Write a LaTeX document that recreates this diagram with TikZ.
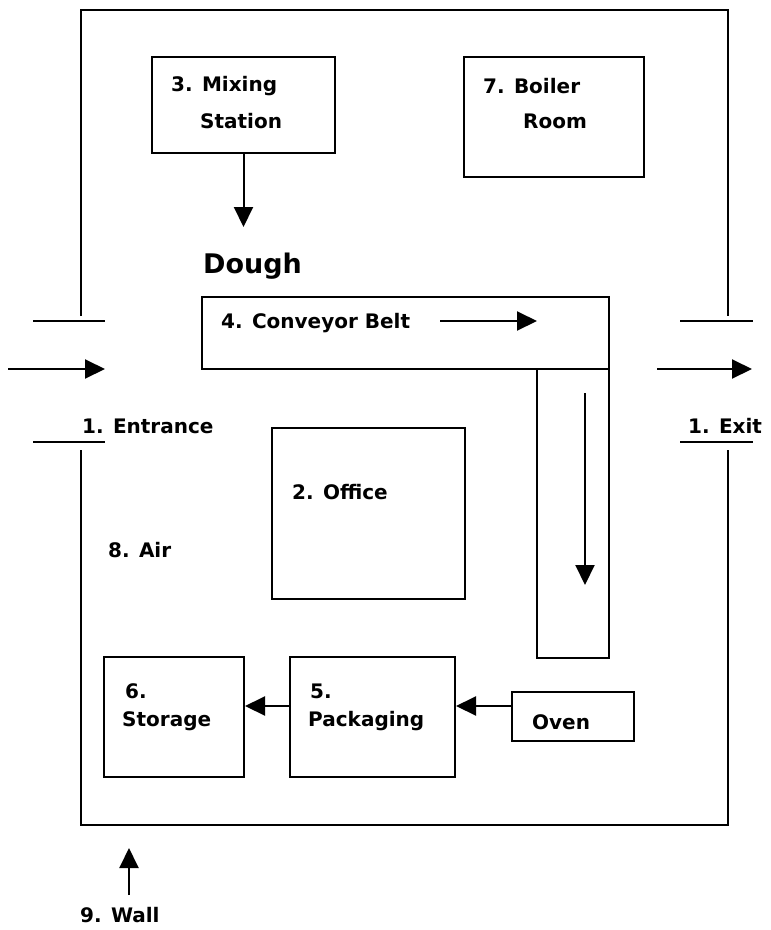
\documentclass[tikz,border=0pt]{standalone}
\usepackage{fontspec}
\setmainfont{DejaVu Sans}
\usetikzlibrary{arrows.meta,positioning}

\begin{document}
\begin{tikzpicture}[x=1pt, y=-1pt,
    room/.style={draw, line width=2pt, inner sep=0pt},
    lbl/.style={font=\bfseries\fontsize{20}{24}\selectfont, anchor=west, inner sep=0pt},
    flow/.style={line width=2pt, -{Triangle[length=20pt,width=19pt]}},
    wall/.style={line width=2pt}]

    \def\wallL{81}
    \def\wallR{728}

    \useasboundingbox (0,0) rectangle (771,930);

    % Draw outer wall with the two doors
    \draw[wall] (\wallL,316) -- (\wallL,10) -- (\wallR,10) -- (\wallR,316);
    \draw[wall] (\wallL,450) -- (\wallL,825) -- (\wallR,825) -- (\wallR,450);
    \draw[wall] (33,321) -- (105,321);
    \draw[wall] (33,442) -- (105,442);
    \draw[wall] (680,321) -- (753,321);
    \draw[wall] (680,442) -- (753,442);

    % Entrance and exit
    \coordinate (inA) at (8,369);
    \coordinate (inB) at (105,369);
    \coordinate (outA) at (657,369);
    \coordinate (outB) at (752,369);
    \draw[flow] (inA) -- (inB);
    \draw[flow] (outA) -- (outB);
    \node[lbl] (entrance) at (82,426) {1. Entrance};
    \node[lbl] (exit) at (688,426) {1. Exit};

    % Rooms
    \node[room, minimum width=183pt, minimum height=96pt] (mix) at (243.5,105) {};
    \node[room, minimum width=180pt, minimum height=120pt] (boiler) at (554,117) {};
    \node[room, minimum width=407pt, minimum height=72pt] (beltH) at (405.5,333) {};
    \node[room, minimum width=72pt, minimum height=289pt] (beltV) at (573,513.5) {};
    \node[room, minimum width=193pt, minimum height=171pt] (office) at (368.5,513.5) {};
    \node[room, minimum width=140pt, minimum height=120pt] (store) at (174,717) {};
    \node[room, minimum width=165pt, minimum height=120pt] (pack) at (372.5,717) {};
    \node[room, minimum width=122pt, minimum height=49pt] (oven) at (573,716.5) {};

    % Room labels
    \node[lbl] (mixA) at ([shift={(20,-19)}]mix.west) {3. Mixing};
    \node[lbl] (mixB) at ([shift={(49,16)}]mix.west) {Station};
    \node[lbl] (boilerA) at ([shift={(20,-31)}]boiler.west) {7. Boiler};
    \node[lbl] (boilerB) at ([shift={(60,4)}]boiler.west) {Room};
    \node[lbl, font=\bfseries\fontsize{27}{32}\selectfont] (dough) at (203,266) {Dough};
    \node[lbl] (beltlbl) at ([shift={(20,-10)}]beltH.west) {4. Conveyor Belt};
    \node[lbl] (officelbl) at ([shift={(21,-21)}]office.west) {2. Office};
    \node[lbl] (air) at (108,550) {8. Air};
    \node[lbl] (storeA) at ([shift={(22,-26)}]store.west) {6.};
    \node[lbl] (storeB) at ([shift={(19,4)}]store.west) {Storage};
    \node[lbl] (packA) at ([shift={(21,-26)}]pack.west) {5.};
    \node[lbl] (packB) at ([shift={(19,4)}]pack.west) {Packaging};
    \node[lbl] (ovenlbl) at ([shift={(21,6)}]oven.west) {Oven};

    % Flow of the dough
    \coordinate[below=73pt of mix.south] (mixtip);
    \draw[flow] (mix.south) -- (mixtip);
    \coordinate (beltA) at (440,321);
    \coordinate (beltB) at (537,321);
    \draw[flow] (beltA) -- (beltB);
    \coordinate (beltC) at (585,393);
    \coordinate (beltD) at (585,585);
    \draw[flow] (beltC) -- (beltD);
    \draw[flow] ([yshift=10.5pt]oven.west) -- ([yshift=11pt]pack.east);
    \draw[flow] ([yshift=11pt]pack.west) -- ([yshift=11pt]store.east);

    % Wall pointer
    \node[lbl] (walllbl) at (80,915) {9. Wall};
    \coordinate (walltip) at (129,848);
    \draw[flow] (walllbl.north -| walltip) ++(0,-12) -- (walltip);

\end{tikzpicture}
\end{document}
